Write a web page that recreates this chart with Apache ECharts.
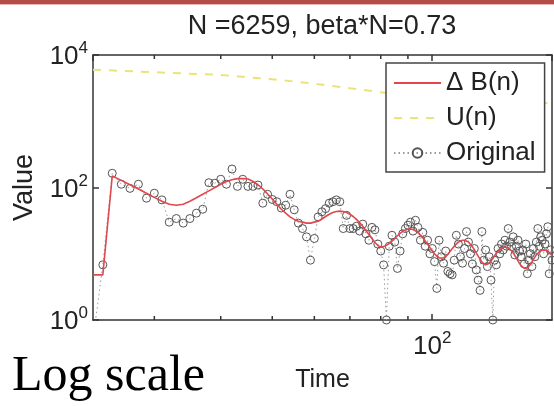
<!DOCTYPE html>
<html>
<head>
<meta charset="utf-8">
<script src="https://cdn.jsdelivr.net/npm/echarts@6/dist/echarts.min.js"></script>
<style>
  html, body { margin: 0; padding: 0; background: #ffffff; }
  #chart { width: 554px; height: 406px; }
</style>
</head>
<body>
<div id="chart"></div>
<script>
// Time index of the first sample; samples are one time step apart.
const firstTime = 23;

// Observed series (one value per time step).
const originalValues = [
  0.5, 6.8, 164, 112, 97, 112, 69, 82, 65, 30,
  34, 29, 34, 41, 47, 118, 116, 133, 112, 190,
  104, 133, 104, 104, 109, 58, 79, 66, 61, 49,
  54, 79, 46, 29, 24, 18, 8, 17, 36, 43,
  48, 58, 61, 65, 61, 24, 38, 24, 24, 26,
  22, 28, 20, 16, 25, 23, 14, 11, 6.8, 1,
  13, 19, 15, 6, 11, 20, 24, 27, 30, 22,
  32, 25, 16, 21, 13, 16, 10, 12, 7.6, 3,
  16, 9, 7.2, 11, 5.4, 5, 4.8, 8, 19, 14,
  9, 7.2, 12, 21.6, 15, 10, 7, 12, 5.7, 4,
  2.8, 21.6, 8, 11.4, 6.4, 9, 4, 1, 8, 6.8,
  12, 10, 14, 11.4, 16, 13, 24, 15, 12.8, 18,
  9.6, 13, 16, 11, 9, 11.4, 7, 14, 5, 8,
  10, 6.4, 12, 9, 15, 24, 13, 18, 16, 10,
  14, 20, 25.6, 5, 11.4, 8
];

// Fitted ΔB(n) series (same time steps).
const deltaBValues = [
  4.8, 4.8, 149, 128, 110, 95, 82, 71, 62, 56,
  54, 56, 62, 70, 79, 89, 100, 112, 123, 131,
  136, 137, 134, 124, 110, 95, 80, 67, 56, 47,
  41, 36, 33, 31, 30, 29, 29, 30, 31, 33.5,
  36.5, 39.5, 42, 43.5, 44, 43.5, 42, 39.5, 36.5, 33,
  29.5, 26, 22.5, 19.5, 17, 14.8, 13.3, 12.6, 12.8, 13.4,
  14.3, 15.5, 17, 18.7, 20.3, 21.8, 22.9, 23.5, 23.6, 23.2,
  22.2, 20.8, 19.2, 17.4, 15.6, 13.9, 12.4, 11.1, 10.0, 9.2,
  8.7, 8.6, 8.7, 9.1, 9.8, 10.8, 11.9, 13.0, 14.1, 15.0,
  15.6, 16.0, 16.0, 15.7, 15.0, 14.0, 12.8, 11.5, 10.3, 9.2,
  8.3, 7.5, 7.0, 6.8, 6.9, 7.2, 7.8, 8.5, 9.3, 10.1,
  10.9, 11.6, 12.1, 12.5, 12.6, 12.6, 12.3, 11.8, 11.1, 10.3,
  9.4, 8.6, 7.8, 7.1, 6.6, 6.2, 6.0, 6.0, 6.1, 6.4,
  6.9, 7.5, 8.2, 8.9, 9.6, 10.2, 10.7, 11.1, 11.3, 11.4,
  11.4, 11.3, 11.0, 10.5, 9.9, 9.3
];

// U(n) curve, sampled at these times.
const uTimes  = [23,   30,   40,   50,   60,   70,   80,   90,   100,  120,  140,  168];
const uValues = [6000, 5500, 5000, 4300, 3700, 3150, 2750, 2450, 2250, 2050, 1950, 1880];

// Axis settings.
const timeMin = 23, timeMax = 168;
const valueMin = 1, valueMax = 10000;
const minorTickTimes = [30, 40, 50, 60, 70, 80, 90];

const titleText = 'N =6259, beta*N=0.73';
const nameDeltaB = '\u0394 B(n)', nameU = 'U(n)', nameOriginal = 'Original';

const times = originalValues.map((_, i) => firstTime + i);
const pairs = (xs, ys) => xs.map((x, i) => [x, ys[i]]);

const FONT = 'Liberation Sans, Arial, Helvetica, sans-serif';
const INK = '#222';
const AXIS = '#333';

const powerLabel = (v) => {
  const e = Math.log10(v);
  if (Math.abs(e - Math.round(e)) > 1e-6) return '';
  return '{b|10}{s|' + Math.round(e) + '}';
};
const powerRich = {
  b: { fontSize: 26, lineHeight: 30, fontFamily: FONT, color: INK, verticalAlign: 'bottom' },
  s: { fontSize: 17, lineHeight: 17, fontFamily: FONT, color: INK, verticalAlign: 'top' }
};

const axisLineStyle = { color: AXIS, width: 1.5 };

const chart = echarts.init(document.getElementById('chart'), null, { renderer: 'canvas' });

chart.setOption({
  animation: false,
  backgroundColor: '#ffffff',
  grid: { left: 93, right: 2, top: 55, bottom: 86, containLabel: false },
  graphic: [
    { type: 'rect', shape: { x: 0, y: 0, width: 554, height: 4 }, style: { fill: '#b44c48' } },
    { type: 'rect', shape: { x: 0, y: 4, width: 554, height: 1 }, style: { fill: '#e9b9b6' } },
    { type: 'text', x: 322, y: 13,
      style: { text: titleText, font: '27px ' + FONT, fill: INK, align: 'center', verticalAlign: 'top' } },
    { type: 'text', x: 12, y: 402,
      style: { text: 'Log scale', font: '50px Liberation Serif, Times New Roman, serif', fill: '#000', align: 'left', verticalAlign: 'bottom' } }
  ],
  legend: {
    // line-only entries hide the marker the legend would otherwise add
    data: [
      { name: nameDeltaB, itemStyle: { opacity: 0 } },
      { name: nameU, itemStyle: { opacity: 0 } },
      { name: nameOriginal }
    ],
    orient: 'vertical',
    left: 386, top: 63,
    padding: [7, 9, 6, 7],
    itemGap: 9,
    itemWidth: 47, itemHeight: 12,
    backgroundColor: '#ffffff',
    borderColor: '#444', borderWidth: 1.5, borderRadius: 0,
    textStyle: { fontSize: 26, fontFamily: FONT, color: INK }
  },
  xAxis: [
    {
      type: 'log', logBase: 10, min: timeMin, max: timeMax, position: 'bottom',
      name: 'Time', nameLocation: 'middle', nameGap: 48,
      nameTextStyle: { fontSize: 25, fontFamily: FONT, color: INK },
      axisLine: { show: true, lineStyle: axisLineStyle },
      axisTick: { show: true, inside: true, length: 6, lineStyle: axisLineStyle },
      axisLabel: { formatter: powerLabel, rich: powerRich, margin: 10, showMinLabel: false, showMaxLabel: false },
      splitLine: { show: false }, minorTick: { show: false }
    },
    {
      type: 'log', logBase: 10, min: timeMin, max: timeMax, position: 'top',
      axisLine: { show: true, lineStyle: axisLineStyle },
      axisTick: { show: true, inside: true, length: 6, lineStyle: axisLineStyle },
      axisLabel: { show: false }, splitLine: { show: false }
    }
  ],
  yAxis: [
    {
      type: 'log', logBase: 100, min: valueMin, max: valueMax, position: 'left',
      name: 'Value', nameLocation: 'middle', nameGap: 55, nameRotate: 90,
      nameTextStyle: { fontSize: 27, fontFamily: FONT, color: INK },
      axisLine: { show: true, lineStyle: axisLineStyle },
      axisTick: { show: true, inside: true, length: 6, lineStyle: axisLineStyle },
      axisLabel: { formatter: powerLabel, rich: powerRich, margin: 5 },
      splitLine: { show: false }
    },
    {
      type: 'log', logBase: 100, min: valueMin, max: valueMax, position: 'right',
      axisLine: { show: true, lineStyle: axisLineStyle },
      axisTick: { show: true, inside: true, length: 6, lineStyle: axisLineStyle },
      axisLabel: { show: false }, splitLine: { show: false }
    }
  ],
  series: [
    {
      name: nameOriginal, type: 'line', xAxisIndex: 0, yAxisIndex: 0, z: 2,
      data: pairs(times, originalValues),
      symbol: 'circle', symbolSize: 8, showSymbol: true, showAllSymbol: true,
      itemStyle: { color: 'rgba(0,0,0,0)', borderColor: '#555', borderWidth: 1 },
      lineStyle: { color: '#999', width: 1, type: [1.5, 3] },
      clip: true
    },
    {
      name: nameU, type: 'line', xAxisIndex: 0, yAxisIndex: 0, z: 3,
      data: pairs(uTimes, uValues),
      symbol: 'none', showSymbol: false,
      itemStyle: { color: '#ece27a' },
      lineStyle: { color: '#ece27a', width: 2, type: [8, 8] }
    },
    {
      name: nameDeltaB, type: 'line', xAxisIndex: 0, yAxisIndex: 0, z: 4,
      data: pairs(times, deltaBValues),
      symbol: 'none', showSymbol: false,
      itemStyle: { color: '#e2474c' },
      lineStyle: { color: '#e2474c', width: 1.6 },
      clip: true
    },
    {
      // minor time ticks on the bottom and top edges of the box
      type: 'custom', xAxisIndex: 0, yAxisIndex: 0, silent: true, z: 5,
      data: minorTickTimes.map(t => [t, valueMin]),
      encode: { x: 0, y: 1 },
      renderItem: (params, api) => {
        const cs = params.coordSys;
        const x = api.coord([api.value(0), api.value(1)])[0];
        const st = { stroke: AXIS, lineWidth: 1.5 };
        return {
          type: 'group',
          children: [
            { type: 'line', shape: { x1: x, y1: cs.y + cs.height, x2: x, y2: cs.y + cs.height - 4 }, style: st },
            { type: 'line', shape: { x1: x, y1: cs.y, x2: x, y2: cs.y + 4 }, style: st }
          ]
        };
      }
    }
  ]
});
</script>
</body>
</html>
